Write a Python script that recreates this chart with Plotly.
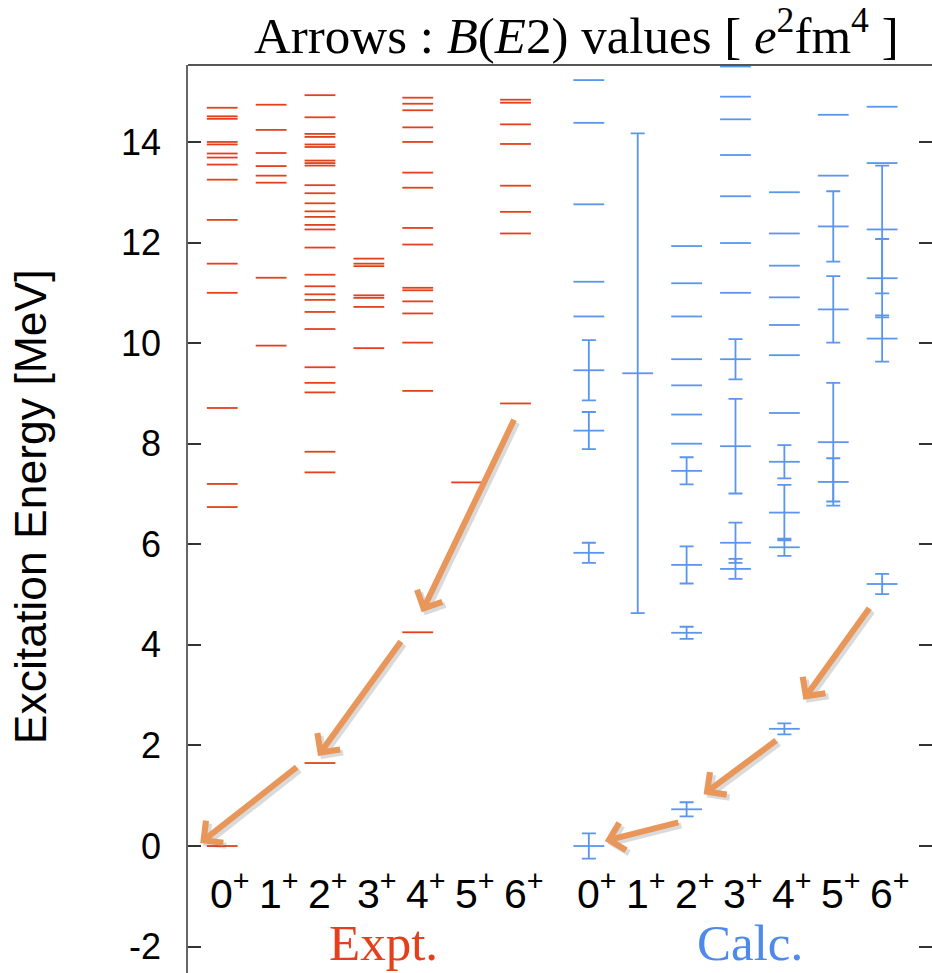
import plotly.graph_objects as go

# ---------------- data (MeV) ----------------
SPINS = ["0", "1", "2", "3", "4", "5", "6"]

EXPT_0 = [0.0, 6.74, 7.20, 8.71, 11.00, 11.58, 12.45, 13.25, 13.55, 13.69, 13.77,
          13.95, 14.00, 14.46, 14.51, 14.68]
EXPT_1 = [9.95, 11.30, 13.19, 13.33, 13.52, 13.78, 14.24, 14.74]
EXPT_2 = [1.65, 7.43, 7.84, 9.02, 9.21, 9.52, 10.28, 10.62, 10.86, 10.97, 11.13,
          11.36, 11.90, 12.26, 12.35, 12.51, 12.62, 12.78, 12.98, 13.14, 13.53,
          13.58, 13.63, 13.90, 13.95, 14.10, 14.16, 14.49, 14.93]
EXPT_3 = [9.90, 10.72, 10.90, 10.95, 11.53, 11.58, 11.68]
EXPT_4 = [4.25, 9.05, 10.01, 10.59, 10.83, 11.05, 11.10, 11.96, 12.29, 13.09,
          13.39, 14.00, 14.29, 14.63, 14.76, 14.88]
EXPT_5 = [7.23]
EXPT_6 = [8.80, 12.18, 12.61, 13.13, 13.96, 14.35, 14.78, 14.84]

CALC_0 = [0.0, 5.83, 8.26, 9.46, 10.53, 11.22, 12.76, 14.38, 15.23]
CALC_0_ERR = [0.25, 0.20, 0.37, 0.60, 0, 0, 0, 0, 0]
CALC_1 = [9.40]
CALC_1_ERR = [4.77]
CALC_2 = [0.73, 4.24, 5.59, 7.46, 8.00, 8.58, 9.16, 9.68, 10.53, 11.19, 11.93]
CALC_2_ERR = [0.14, 0.12, 0.37, 0.27, 0, 0, 0, 0, 0, 0, 0]
CALC_3 = [5.51, 6.03, 7.95, 9.68, 11.00, 11.99, 12.92, 13.74, 14.45, 14.90, 15.50]
CALC_3_ERR = [0.20, 0.40, 0.94, 0.40, 0, 0, 0, 0, 0, 0, 0]
CALC_4 = [2.33, 5.94, 6.63, 7.64, 8.61, 9.76, 10.36, 10.91, 11.54, 12.18, 13.00]
CALC_4_ERR = [0.11, 0.17, 0.55, 0.33, 0, 0, 0, 0, 0, 0, 0]
CALC_5 = [7.24, 8.03, 10.67, 12.32, 13.33, 14.54]
CALC_5_ERR = [0.47, 1.18, 0.66, 0.70, 0, 0]
CALC_6 = [5.21, 10.09, 11.29, 12.26, 13.58, 14.70]
CALC_6_ERR = [0.20, 0.46, 0.78, 1.27, 0, 0]

Y_TICKS = [-2, 0, 2, 4, 6, 8, 10, 12, 14]
Y_TICK_TEXT = ["-2", "0", "2", "4", "6", "8", "10", "12", "14"]

# ---------------- style ----------------
RED = "#E4401C"
BLUE = "#5A95EE"
ORANGE = "#E9965A"
CALC_SHIFT = 7.5  # calc columns drawn to the right of the experimental ones

EXPT = [EXPT_0, EXPT_1, EXPT_2, EXPT_3, EXPT_4, EXPT_5, EXPT_6]
CALC = [CALC_0, CALC_1, CALC_2, CALC_3, CALC_4, CALC_5, CALC_6]
CALC_ERR = [CALC_0_ERR, CALC_1_ERR, CALC_2_ERR, CALC_3_ERR, CALC_4_ERR,
            CALC_5_ERR, CALC_6_ERR]

fig = go.Figure()

LEVEL_SIZE = 22

ex, ey = [], []
for j, levels in enumerate(EXPT):
    for e in levels:
        ex.append(j)
        ey.append(e)
fig.add_trace(go.Scatter(
    x=ex, y=ey, mode="markers", hoverinfo="skip",
    marker=dict(symbol="line-ew", size=LEVEL_SIZE, color=RED,
                line=dict(color=RED, width=1.8)),
    showlegend=False, cliponaxis=True))

cx, cy, bx, by, be = [], [], [], [], []
for j, (levels, errs) in enumerate(zip(CALC, CALC_ERR)):
    for e, d in zip(levels, errs):
        cx.append(j + CALC_SHIFT)
        cy.append(e)
        if d > 0:
            bx.append(j + CALC_SHIFT)
            by.append(e)
            be.append(d)
fig.add_trace(go.Scatter(
    x=cx, y=cy, mode="markers", hoverinfo="skip",
    marker=dict(symbol="line-ew", size=LEVEL_SIZE, color=BLUE,
                line=dict(color=BLUE, width=1.8)),
    showlegend=False))
fig.add_trace(go.Scatter(
    x=bx, y=by, mode="markers", hoverinfo="skip",
    marker=dict(size=1, color="rgba(0,0,0,0)"),
    error_y=dict(type="data", array=be, symmetric=True, color=BLUE,
                 thickness=1.8, width=7),
    showlegend=False))

# invisible trace for the mirrored right-hand ticks
fig.add_trace(go.Scatter(x=[0], y=[0], yaxis="y2", mode="markers",
                         marker=dict(size=1, color="rgba(0,0,0,0)"),
                         hoverinfo="skip", showlegend=False))

annotations = []
# spin labels
for j, s in enumerate(SPINS):
    for off in (0, CALC_SHIFT):
        annotations.append(dict(
            x=j + off, y=-0.36, xref="x", yref="y", showarrow=False,
            text=f"{s}<sup>+</sup>", xanchor="center", yanchor="top", xshift=8,
            borderpad=0,
            font=dict(family="Liberation Sans", size=41, color="black")))
annotations.append(dict(x=3.3, y=-1.93, xref="x", yref="y", showarrow=False,
                        borderpad=0, yanchor="middle",
                        text="Expt.", font=dict(family="Liberation Serif", size=51, color=RED)))
annotations.append(dict(x=3.3 + CALC_SHIFT, y=-1.93, xref="x", yref="y", showarrow=False,
                        borderpad=0, yanchor="middle",
                        text="Calc.", font=dict(family="Liberation Serif", size=51, color="#4F8AEA")))

# B(E2) arrows, anchored at the final level: (x, E, xshift, yshift, ax, ay)
ARROWS = [
    (4, 4.25, 4, 20, 93, -194),
    (2, 1.65, -2, 7, 84, -116),
    (0, 0.00, -22, 3, 98, -77),
    (4 + CALC_SHIFT, 2.33, 19, 29, 67, -93),
    (2 + CALC_SHIFT, 0.73, 17, 15, 74, -55),
    (0 + CALC_SHIFT, 0.00, 16, 5, 75, -19),
]
for shadow in (True, False):
    for (xa, ya, xs, ys, ax, ay) in ARROWS:
        annotations.append(dict(
            x=xa, y=ya, xref="x", yref="y", text="", showarrow=True,
            ax=ax, ay=ay, xshift=xs + (3 if shadow else 0), yshift=ys - (3 if shadow else 0),
            arrowhead=4, arrowsize=0.9, arrowwidth=6, standoff=0,
            arrowcolor="rgba(90,90,90,0.22)" if shadow else ORANGE))

# title and y-axis title
annotations.append(dict(
    xref="paper", yref="paper", x=0.522, y=1.036, showarrow=False,
    xanchor="center", yanchor="middle",
    text="Arrows : <i>B</i>(<i>E</i>2) values [ <i>e</i><sup>2</sup>fm<sup>4</sup> ]",
    font=dict(family="Liberation Serif", size=51, color="black")))
annotations.append(dict(
    xref="paper", yref="paper", x=-0.2124, y=0.514, showarrow=False,
    xanchor="center", yanchor="middle", textangle=-90,
    text="Excitation Energy [MeV]",
    font=dict(family="Liberation Sans", size=44.5, color="black")))

Y_RANGE = [-2.525, 15.53]
fig.update_layout(
    width=932, height=973,
    margin=dict(l=188, r=0, t=65, b=0),
    paper_bgcolor="white", plot_bgcolor="white",
    showlegend=False,
    xaxis=dict(range=[-0.70, 14.52], showgrid=False, zeroline=False,
               showticklabels=False, ticks="", showline=False, fixedrange=True),
    yaxis=dict(range=Y_RANGE, tickvals=Y_TICKS, ticktext=Y_TICK_TEXT,
               ticks="inside", ticklen=13,
               tickwidth=2, tickcolor="#333", showgrid=False, zeroline=False,
               showline=True, linecolor="#666", linewidth=1.5,
               ticklabelstandoff=18,
               tickfont=dict(family="Liberation Sans", size=36, color="black")),
    yaxis2=dict(range=Y_RANGE, tickvals=Y_TICKS, overlaying="y", side="right",
                ticks="inside", ticklen=13, tickwidth=2, tickcolor="#333",
                showticklabels=False, showgrid=False, zeroline=False, showline=False),
    annotations=annotations,
    shapes=[dict(type="line", xref="paper", yref="paper", x0=0, x1=1, y0=1, y1=1,
                 line=dict(color="#555", width=2))],
)

fig.write_html("out.html")
